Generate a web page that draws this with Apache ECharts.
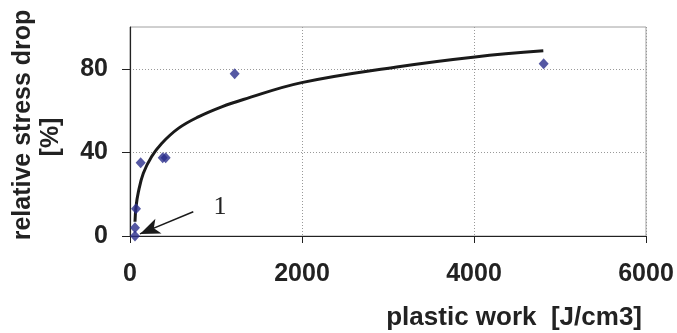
<!DOCTYPE html>
<html><head><meta charset="utf-8">
<script src="https://cdn.jsdelivr.net/npm/echarts@6/dist/echarts.min.js"></script>
<style>html,body{margin:0;padding:0;background:#fff}#c{width:677px;height:333px}</style>
</head><body><div id="c"></div>
<script>
// measured points: [plastic work J/cm3, relative stress drop %]
const pointsX = [58, 58, 70, 124, 380, 415, 1217, 4810];
const pointsY = [0, 4, 13, 35, 37.5, 37.5, 77.6, 82.4];
// trend curve
const curveX = [58, 70, 97, 155, 252, 368, 562, 795, 1066, 1318, 1996, 3101, 4012, 4806];
const curveY = [6.8, 14, 21, 30, 38, 44.3, 51.5, 57, 61.8, 65.3, 73.4, 80.9, 85.7, 88.6];
const xTicks = [0, 2000, 4000, 6000];
const yTicks = [0, 40, 80];
const annotation = {label: '1', from: [736, 11.6], to: [116, 1]};

const FONT = 'Liberation Sans, Arial, sans-serif';
const chart = echarts.init(document.getElementById('c'));
chart.setOption({
  animation: false,
  grid: {left: 130, right: 31, top: 27, bottom: 97, show: true, borderColor: '#a0a0a0', borderWidth: 1,
         outerBoundsMode: 'none', containLabel: false},
  xAxis: {
    type: 'value', min: 0, max: 6000, interval: 2000,
    axisLine: {onZero: false, lineStyle: {color: '#222', width: 1.2}},
    axisTick: {length: 7, customValues: xTicks, lineStyle: {color: '#222'}},
    axisLabel: {color: '#222', fontFamily: FONT, fontWeight: 'bold', fontSize: 25, margin: 26,
                customValues: xTicks, formatter: v => String(v)},
    splitLine: {show: true, lineStyle: {color: '#999', type: [1, 2], width: 1}}
  },
  yAxis: {
    type: 'value', min: 0, max: 100, interval: 40,
    axisLine: {show: true, lineStyle: {color: '#222', width: 1.2}},
    axisTick: {show: true, length: 8, customValues: yTicks, lineStyle: {color: '#222'}},
    axisLabel: {color: '#222', fontFamily: FONT, fontWeight: 'bold', fontSize: 25, margin: 22,
                customValues: yTicks, formatter: v => String(v)},
    splitLine: {show: true, lineStyle: {color: '#999', type: [1, 2], width: 1}}
  },
  series: [
    {
      type: 'line', data: curveX.map((x, i) => [x, curveY[i]]), smooth: 0.4, showSymbol: false,
      lineStyle: {color: '#1a1a1a', width: 3}, z: 2,
      markLine: {
        silent: true, symbol: ['none', 'arrow'], symbolSize: [12, 20],
        lineStyle: {color: '#1a1a1a', width: 1.5, type: 'solid'},
        label: {show: false},
        data: [[{coord: annotation.from}, {coord: annotation.to}]]
      }
    },
    {
      type: 'scatter', data: pointsX.map((x, i) => [x, pointsY[i]]), symbol: 'diamond', symbolSize: [10, 11],
      itemStyle: {color: '#2b2e8c'}, z: 3
    }
  ],
  graphic: [
    {type: 'text', x: 23, y: 125, rotation: Math.PI / 2,
     style: {text: 'relative stress drop', font: 'bold 25px ' + FONT, fill: '#222', align: 'center', verticalAlign: 'middle'}},
    {type: 'text', x: 51, y: 137, rotation: Math.PI / 2,
     style: {text: '[%]', font: 'bold 25px ' + FONT, fill: '#222', align: 'center', verticalAlign: 'middle'}},
    {type: 'text', x: 642, y: 318,
     style: {text: 'plastic work  [J/cm3]', font: 'bold 26px ' + FONT, fill: '#222', align: 'right', verticalAlign: 'middle'}},
    {type: 'text', x: 220, y: 207,
     style: {text: annotation.label, font: '26px Liberation Serif, Times New Roman, serif', fill: '#222', align: 'center', verticalAlign: 'middle'}}
  ]
});
</script></body></html>
